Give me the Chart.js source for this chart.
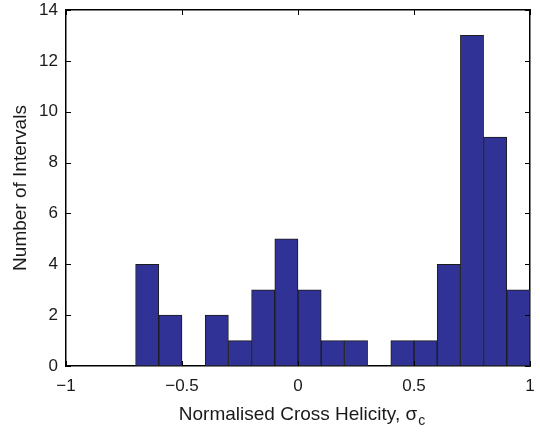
<!DOCTYPE html>
<html>
<head>
<meta charset="utf-8">
<script src="https://cdn.jsdelivr.net/npm/chart.js@4"></script>
<style>
  html, body { margin: 0; padding: 0; background: #fff; }
  #wrap { width: 540px; height: 432px; }
</style>
</head>
<body>
<div id="wrap"><canvas id="myChart" width="540" height="432"></canvas></div>
<script>
// histogram bins (centres, width 0.1) and counts
const binCenters = [-0.95, -0.85, -0.75, -0.65, -0.55, -0.45, -0.35, -0.25, -0.15, -0.05,
  0.05, 0.15, 0.25, 0.35, 0.45, 0.55, 0.65, 0.75, 0.85, 0.95]
const counts = [0, 0, 0, 4, 2, 0, 2, 1, 3, 5, 3, 1, 1, 0, 1, 1, 4, 13, 9, 3]
const xTicks = [-1, -0.5, 0, 0.5, 1]
const yTicks = [0, 2, 4, 6, 8, 10, 12, 14]

const xTitle = 'Normalised Cross Helicity, σ'
const xTitleSub = 'c'
const yTitle = 'Number of Intervals'

const FONT = "'Liberation Sans', Arial, Helvetica, sans-serif"
const TITLE_SIZE = 19

const fmt = v => (v < 0 ? '\u2212' + Math.abs(v) : String(v))

// fixed box sizes so the plot area sits at 66..530 x 10..366
const fixH = h => s => { s.height = h; s.paddingLeft = 0; s.paddingRight = 0 }
const fixW = w => s => { s.width = w; s.paddingTop = 0; s.paddingBottom = 0 }

// ticks pointing inwards on all four sides + subscript on the x title
const boxTicks = {
  id: 'boxTicks',
  afterDraw (chart) {
    const { ctx, chartArea: a } = chart
    const x = chart.scales.x
    const y = chart.scales.y
    const len = 5
    ctx.save()
    ctx.strokeStyle = '#000'
    ctx.lineWidth = 1
    xTicks.forEach(v => {
      const px = Math.round(x.getPixelForValue(v)) + 0.5
      ctx.beginPath()
      ctx.moveTo(px, a.bottom); ctx.lineTo(px, a.bottom - len)
      ctx.moveTo(px, a.top); ctx.lineTo(px, a.top + len)
      ctx.stroke()
    })
    yTicks.forEach(v => {
      const py = Math.round(y.getPixelForValue(v)) + 0.5
      ctx.beginPath()
      ctx.moveTo(a.left, py); ctx.lineTo(a.left + len, py)
      ctx.moveTo(a.right, py); ctx.lineTo(a.right - len, py)
      ctx.stroke()
    })
    // subscript c after sigma
    ctx.font = TITLE_SIZE + 'px ' + FONT
    const w = ctx.measureText(xTitle).width
    const cx = (a.left + a.right) / 2
    const ty = 432 - 6 - TITLE_SIZE * 1.2 / 2
    ctx.fillStyle = '#1a1a1a'
    ctx.font = '14px ' + FONT
    ctx.textBaseline = 'middle'
    ctx.textAlign = 'left'
    ctx.fillText(xTitleSub, cx + w / 2 + 1, ty + 7)
    ctx.restore()
  }
}

const ctx = document.getElementById('myChart').getContext('2d')

const myChart = new Chart(ctx, {
  type: 'bar',
  data: {
    datasets: [{
      label: 'Intervals',
      data: binCenters.map((c, i) => ({ x: c, y: counts[i] })),
      backgroundColor: '#303395',
      borderColor: '#1c1c1c',
      borderWidth: 1,
      borderSkipped: false,
      barPercentage: 1,
      categoryPercentage: 1
    }]
  },
  options: {
    responsive: false,
    animation: false,
    layout: { padding: 0 },
    plugins: {
      legend: { display: false },
      tooltip: { enabled: false }
    },
    scales: {
      x: {
        type: 'linear',
        position: 'bottom',
        offset: false,
        min: -1,
        max: 1,
        afterFit: fixH(66),
        afterBuildTicks: s => { s.ticks = xTicks.map(v => ({ value: v })) },
        grid: { display: false, drawTicks: false },
        border: { display: true, color: '#000', width: 1.5 },
        ticks: {
          padding: 10,
          color: '#1a1a1a',
          font: { family: FONT, size: 17 },
          maxRotation: 0,
          callback: v => fmt(v)
        },
        title: {
          display: true,
          text: xTitle,
          color: '#1a1a1a',
          font: { family: FONT, size: TITLE_SIZE, lineHeight: 1.2 },
          padding: { top: 0, bottom: 6 }
        }
      },
      y: {
        type: 'linear',
        position: 'left',
        min: 0,
        max: 14,
        afterFit: fixW(66),
        afterBuildTicks: s => { s.ticks = yTicks.map(v => ({ value: v })) },
        grid: { display: false, drawTicks: false },
        border: { display: true, color: '#000', width: 1.5 },
        ticks: {
          padding: 8,
          color: '#1a1a1a',
          font: { family: FONT, size: 17 }
        },
        title: {
          display: true,
          text: yTitle,
          color: '#1a1a1a',
          font: { family: FONT, size: TITLE_SIZE, lineHeight: 1.2 },
          padding: { top: 9, bottom: 0 }
        }
      },
      x2: {
        type: 'linear',
        position: 'top',
        offset: false,
        min: -1,
        max: 1,
        afterFit: fixH(10),
        grid: { display: false, drawTicks: false },
        border: { display: true, color: '#000', width: 1.5 },
        ticks: { display: false }
      },
      y2: {
        type: 'linear',
        position: 'right',
        min: 0,
        max: 14,
        afterFit: fixW(10),
        grid: { display: false, drawTicks: false },
        border: { display: true, color: '#000', width: 1.5 },
        ticks: { display: false }
      }
    }
  },
  plugins: [boxTicks]
})
</script>
</body>
</html>
